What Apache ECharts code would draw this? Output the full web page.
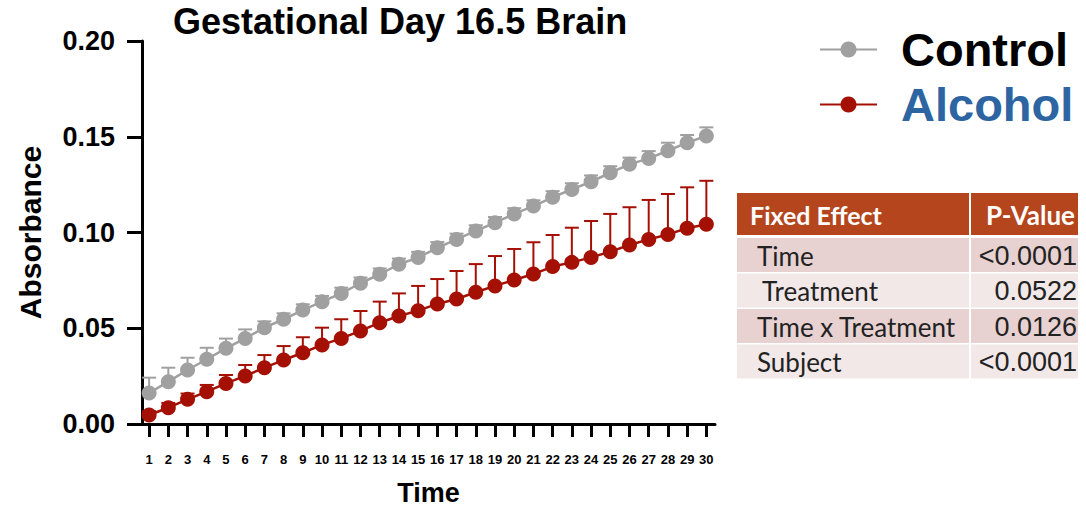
<!DOCTYPE html>
<html><head><meta charset="utf-8">
<script src="https://cdn.jsdelivr.net/npm/echarts@6/dist/echarts.min.js"></script>
<style>html,body{margin:0;padding:0;background:#fff}#c{width:1086px;height:506px}</style>
</head><body><div id="c"></div>
<script>
const timePoints = [1,2,3,4,5,6,7,8,9,10,11,12,13,14,15,16,17,18,19,20,21,22,23,24,25,26,27,28,29,30];
const controlMean = [0.0162,0.0221,0.0282,0.0338,0.0395,0.0447,0.0503,0.0547,0.0595,0.0639,0.0682,0.0735,0.0782,0.0834,0.0869,0.0920,0.0964,0.1008,0.1051,0.1097,0.1138,0.1184,0.1225,0.1265,0.1312,0.1356,0.1387,0.1427,0.1469,0.1504];
const controlErr = [0.0080,0.0073,0.0064,0.0060,0.0051,0.0047,0.0033,0.0031,0.0030,0.0030,0.0030,0.0030,0.0030,0.0030,0.0030,0.0030,0.0030,0.0030,0.0030,0.0030,0.0030,0.0032,0.0032,0.0033,0.0034,0.0035,0.0038,0.0042,0.0040,0.0045];
const alcoholMean = [0.0047,0.0085,0.0129,0.0169,0.0212,0.0251,0.0294,0.0334,0.0372,0.0413,0.0447,0.0486,0.0529,0.0564,0.0592,0.0627,0.0653,0.0688,0.0721,0.0752,0.0783,0.0822,0.0844,0.0870,0.0900,0.0935,0.0964,0.0990,0.1022,0.1043];
const alcoholErr = [0.0020,0.0025,0.0030,0.0035,0.0044,0.0057,0.0066,0.0073,0.0081,0.0090,0.0100,0.0104,0.0110,0.0118,0.0129,0.0130,0.0146,0.0147,0.0156,0.0162,0.0166,0.0165,0.0181,0.0190,0.0197,0.0197,0.0206,0.0211,0.0214,0.0227];
const yTicks = [0, 0.05, 0.10, 0.15, 0.20];
const seriesNames = ['Control', 'Alcohol'];
const tableHeader = ['Fixed Effect', 'P-Value'];
const tableEffects = ['Time', 'Treatment', 'Time x Treatment', 'Subject'];
const tablePValues = ['<0.0001', '0.0522', '0.0126', '<0.0001'];

const GREY = '#a0a0a0', RED = '#a51005', BLUE = '#2d64a2';
const FONT = '"Liberation Sans", Arial, sans-serif';
const TFONT = 'Lato, "Noto Sans", sans-serif';

function errData(mean, err) {
  return timePoints.map((t, i) => [t, mean[i], mean[i] + err[i]]);
}
function errRenderer(color) {
  return function (params, api) {
    const x = api.value(0), lo = api.value(1), hi = api.value(2);
    const p0 = api.coord([x, lo]), p1 = api.coord([x, hi]);
    const hw = 7;
    return { type: 'group', children: [
      { type: 'line', shape: { x1: p0[0], y1: p0[1], x2: p1[0], y2: p1[1] }, style: { stroke: color, lineWidth: 2 } },
      { type: 'line', shape: { x1: p1[0] - hw, y1: p1[1], x2: p1[0] + hw, y2: p1[1] }, style: { stroke: color, lineWidth: 2 } }
    ]};
  };
}

// table graphic
const tblLeft = 737, colSplit = 970, tblRight = 1078;
const headerTop = 193, headerH = 42, rowTop = 238, rowH = 35.5;
const rowColors = ['#e7d1d1', '#f2e8e8'];
const tableEls = [];
tableEls.push({ type: 'rect', shape: { x: tblLeft, y: headerTop, width: colSplit - tblLeft - 1, height: headerH }, style: { fill: '#b5451c' } });
tableEls.push({ type: 'rect', shape: { x: colSplit + 1, y: headerTop, width: tblRight - colSplit - 1, height: headerH }, style: { fill: '#b5451c' } });
tableEls.push({ type: 'text', x: 750, y: headerTop + headerH / 2 + 1, style: { text: tableHeader[0], fill: '#fff', font: 'bold 25px ' + TFONT, textVerticalAlign: 'middle', textAlign: 'left' } });
tableEls.push({ type: 'text', x: tblRight - 3, y: headerTop + headerH / 2 + 1, style: { text: tableHeader[1], fill: '#fff', font: 'bold 26px ' + TFONT, textVerticalAlign: 'middle', textAlign: 'right' } });
tableEffects.forEach((eff, i) => {
  const y = rowTop + i * rowH;
  const fill = rowColors[i % 2];
  tableEls.push({ type: 'rect', shape: { x: tblLeft, y: y, width: colSplit - tblLeft - 1, height: rowH - 1.5 }, style: { fill } });
  tableEls.push({ type: 'rect', shape: { x: colSplit + 1, y: y, width: tblRight - colSplit - 1, height: rowH - 1.5 }, style: { fill } });
  tableEls.push({ type: 'text', x: eff === 'Treatment' ? 762 : 757, y: y + rowH / 2, style: { text: eff, fill: '#222', font: '26px ' + TFONT, textVerticalAlign: 'middle', textAlign: 'left' } });
  tableEls.push({ type: 'text', x: tblRight - 1, y: y + rowH / 2, style: { text: tablePValues[i], fill: '#222', font: '27px ' + FONT, textVerticalAlign: 'middle', textAlign: 'right' } });
});

const chart = echarts.init(document.getElementById('c'), null, { renderer: 'svg' });
chart.setOption({
  animation: false,
  backgroundColor: '#fff',
  textStyle: { fontFamily: FONT },
  title: {
    text: 'Gestational Day 16.5 Brain', left: 173, top: 1, padding: 0,
    textStyle: { fontFamily: FONT, fontSize: 36, lineHeight: 40, fontWeight: 'bold', color: '#000' }
  },
  legend: {
    orient: 'vertical', left: 814, top: 21, itemWidth: 57, itemHeight: 20, itemGap: 8,
    selectedMode: false,
    textStyle: { fontFamily: FONT, fontSize: 47, fontWeight: 'bold', padding: [0, 0, 0, 19] },
    data: [
      { name: seriesNames[0], textStyle: { color: '#000' } },
      { name: seriesNames[1], textStyle: { color: BLUE } }
    ]
  },
  grid: { left: 142, right: 371, top: 41, bottom: 82, containLabel: false, outerBoundsMode: 'none' },
  xAxis: {
    type: 'value', min: 0.63, max: 30.45,
    name: 'Time', nameLocation: 'middle', nameGap: 55,
    nameTextStyle: { fontFamily: FONT, fontSize: 27, fontWeight: 'bold', color: '#000' },
    axisLine: { lineStyle: { color: '#000', width: 3 } },
    axisTick: { customValues: timePoints, length: 13, lineStyle: { color: '#000', width: 3 } },
    axisLabel: { customValues: timePoints, margin: 29, fontSize: 13, fontWeight: 'bold', color: '#000', fontFamily: FONT },
    splitLine: { show: false }
  },
  yAxis: {
    type: 'value', min: yTicks[0], max: yTicks[yTicks.length - 1], interval: 0.05,
    name: 'Absorbance', nameLocation: 'middle', nameGap: 97, nameRotate: 90,
    nameTextStyle: { fontFamily: FONT, fontSize: 30, fontWeight: 'bold', color: '#000' },
    axisLine: { show: true, lineStyle: { color: '#000', width: 3 } },
    axisTick: { show: true, length: 15, lineStyle: { color: '#000', width: 3 } },
    axisLabel: { margin: 27, fontSize: 27, fontWeight: 'bold', color: '#000', fontFamily: FONT, formatter: v => v.toFixed(2) },
    splitLine: { show: false }
  },
  series: [
    { type: 'custom', name: 'ctrlErr', renderItem: errRenderer(GREY), data: errData(controlMean, controlErr), encode: { x: 0, y: [1, 2] }, z: 1 },
    { type: 'custom', name: 'alcErr', renderItem: errRenderer(RED), data: errData(alcoholMean, alcoholErr), encode: { x: 0, y: [1, 2] }, z: 1 },
    { type: 'line', name: seriesNames[0], data: timePoints.map((t, i) => [t, controlMean[i]]), symbol: 'circle', symbolSize: 15,
      itemStyle: { color: GREY }, lineStyle: { color: GREY, width: 2.5 }, z: 3 },
    { type: 'line', name: seriesNames[1], data: timePoints.map((t, i) => [t, alcoholMean[i]]), symbol: 'circle', symbolSize: 15,
      itemStyle: { color: RED }, lineStyle: { color: RED, width: 2.5 }, z: 3 }
  ],
  graphic: { elements: tableEls }
});
</script>
</body></html>
